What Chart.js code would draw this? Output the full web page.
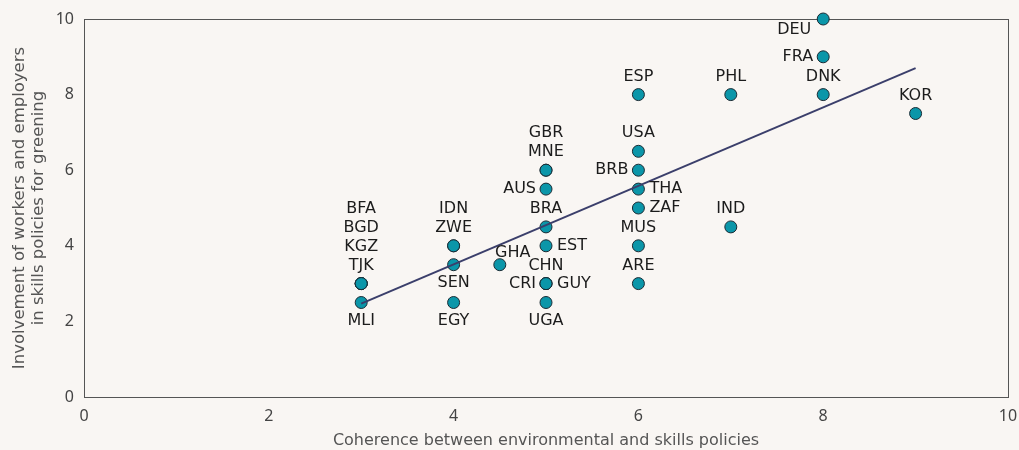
<!DOCTYPE html>
<html>
<head>
<meta charset="utf-8">
<script src="https://cdn.jsdelivr.net/npm/chart.js@4"></script>
<style>
  html, body { margin: 0; padding: 0; background: #f9f6f3; overflow: hidden; }
  canvas { display: block; }
</style>
</head>
<body>
<canvas id="chart" width="1019" height="450"></canvas>
<script>
const countries = ['DEU','FRA','DNK','ESP','PHL','KOR','USA','BRB','THA','ZAF','MUS','ARE','IND',
  'GBR','MNE','AUS','BRA','EST','CHN','CRI','GUY','UGA','GHA','IDN','ZWE','SEN','EGY',
  'BFA','BGD','KGZ','TJK','MLI'];
const coherence = [8,8,8,6,7,9,6,6,6,6,6,6,7,
  5,5,5,5,5,5,5,5,5,4.5,4,4,4,4,
  3,3,3,3,3];
const involvement = [10,9,8,8,8,7.5,6.5,6,5.5,5,4,3,4.5,
  6,6,5.5,4.5,4,3,3,3,2.5,3.5,4,4,3.5,2.5,
  3,3,3,3,2.5];
const trendX = [3, 9];
const trendY = [2.47, 8.7];
const xTicks = [0, 2, 4, 6, 8, 10];
const yTicks = [0, 2, 4, 6, 8, 10];

// label placement: side and stack index (0 = nearest the point)
const placement = {
  DEU: ['bottomleft', 0], FRA: ['left', 0], DNK: ['top', 0], ESP: ['top', 0], PHL: ['top', 0],
  KOR: ['top', 0], USA: ['top', 0], BRB: ['left', 0], THA: ['right', 0], ZAF: ['right', 0],
  MUS: ['top', 0], ARE: ['top', 0], IND: ['top', 0], GBR: ['top', 1], MNE: ['top', 0],
  AUS: ['left', 0], BRA: ['top', 0], EST: ['right', 0], CHN: ['top', 0], CRI: ['left', 0],
  GUY: ['right', 0], UGA: ['bottom', 0], GHA: ['topright', 0], IDN: ['top', 1], ZWE: ['top', 0],
  SEN: ['bottom', 0], EGY: ['bottom', 0], BFA: ['top', 3], BGD: ['top', 2], KGZ: ['top', 1],
  TJK: ['top', 0], MLI: ['bottom', 0]
};

const TICK_FONT = '"Noto Sans", sans-serif';
const TEXT_FONT = '"DejaVu Sans", sans-serif';

const labelPlugin = {
  id: 'countryLabels',
  afterDatasetsDraw(chart) {
    const ctx = chart.ctx;
    const meta = chart.getDatasetMeta(1);
    ctx.save();
    ctx.font = '16px ' + TEXT_FONT;
    ctx.fillStyle = '#1c1c1c';
    ctx.textBaseline = 'middle';
    meta.data.forEach((pt, i) => {
      const name = countries[i];
      const [side, k] = placement[name];
      let x = pt.x, y = pt.y;
      if (side === 'top') { ctx.textAlign = 'center'; y -= 18 + k * 19; }
      else if (side === 'bottom') { ctx.textAlign = 'center'; y += 18 + k * 19; }
      else if (side === 'left') { ctx.textAlign = 'right'; x -= 10; }
      else if (side === 'right') { ctx.textAlign = 'left'; x += 11; }
      else if (side === 'bottomleft') { ctx.textAlign = 'center'; x -= 29; y += 11; }
      else if (side === 'topright') { ctx.textAlign = 'center'; x += 13; y -= 12; }
      ctx.fillText(name, x, y);
    });
    ctx.restore();
  }
};

const boxPlugin = {
  id: 'box',
  beforeDatasetsDraw(chart) {
    const { ctx, chartArea: a } = chart;
    ctx.save();
    ctx.strokeStyle = '#555555';
    ctx.lineWidth = 1;
    ctx.strokeRect(Math.round(a.left) + 0.5, Math.round(a.top) + 0.5,
      Math.round(a.right - a.left), Math.round(a.bottom - a.top));
    ctx.restore();
  }
};

new Chart(document.getElementById('chart'), {
  type: 'scatter',
  data: {
    datasets: [
      {
        type: 'line',
        data: trendX.map((x, i) => ({ x: x, y: trendY[i] })),
        borderColor: '#3b3f6b',
        borderWidth: 2,
        pointRadius: 0,
        fill: false
      },
      {
        data: coherence.map((x, i) => ({ x: x, y: involvement[i] })),
        backgroundColor: '#0b96a9',
        borderColor: '#1a2a33',
        borderWidth: 1,
        pointRadius: 6,
        pointHoverRadius: 6,
        clip: false
      }
    ]
  },
  options: {
    responsive: false,
    animation: false,
    layout: { padding: { left: 0, right: 11, top: 19, bottom: 0 } },
    plugins: { legend: { display: false }, tooltip: { enabled: false } },
    scales: {
      x: {
        type: 'linear', min: 0, max: 10,
        afterBuildTicks: s => { s.ticks = xTicks.map(v => ({ value: v })); },
        afterFit: s => { s.height = 53; s.paddingLeft = 0; s.paddingRight = 0; },
        grid: { display: false, drawTicks: false },
        border: { display: false },
        ticks: { color: '#444', font: { family: TICK_FONT, size: 16 }, padding: 10 },
        title: { display: true, text: 'Coherence between environmental and skills policies',
          color: '#555', font: { family: TEXT_FONT, size: 16, lineHeight: 1.2 }, padding: { top: 0, bottom: 0 } }
      },
      y: {
        type: 'linear', min: 0, max: 10,
        afterBuildTicks: s => { s.ticks = yTicks.map(v => ({ value: v })); },
        afterFit: s => { s.width = 84; s.paddingTop = 0; s.paddingBottom = 0; },
        grid: { display: false, drawTicks: false },
        border: { display: false },
        ticks: { color: '#444', font: { family: TICK_FONT, size: 16 }, padding: 10 },
        title: { display: true, text: ['Involvement of workers and employers', 'in skills policies for greening'],
          color: '#555', font: { family: TEXT_FONT, size: 16.5, lineHeight: 1.15 }, padding: { top: 10, bottom: 0 } }
      }
    }
  },
  plugins: [boxPlugin, labelPlugin]
});
</script>
</body>
</html>
